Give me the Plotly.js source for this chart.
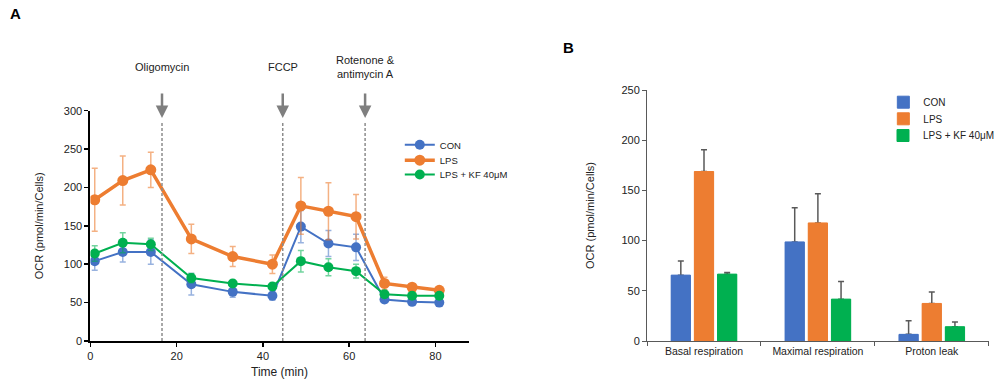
<!DOCTYPE html>
<html>
<head>
<meta charset="utf-8">
<script src="https://cdn.plot.ly/plotly-3.0.1.min.js"></script>
<style>html,body{margin:0;padding:0;background:#fff;}#chart{width:1000px;height:382px;}</style>
</head>
<body>
<div id="chart"></div>
<script>
// ---- Panel A data (Seahorse OCR time course) ----
const timeMin = [1.0, 7.5, 14.0, 23.4, 33.0, 42.2, 48.8, 55.2, 61.6, 68.2, 74.6, 80.9];
const conOCR  = [104, 116, 116, 74, 64, 59, 149, 127, 122, 54, 51, 50];
const conErr  = [12, 13, 16, 14, 7, 6, 21, 17, 17, 4, 3, 3];
const lpsOCR  = [184, 209, 223, 133, 110, 100, 176, 169, 162, 75, 70, 66];
const lpsErr  = [41, 32, 23, 19, 13, 12, 37, 37, 29, 8, 4, 3];
const kfOCR   = [114, 128, 126, 82, 75, 71, 104, 96, 91, 61, 59, 59];
const kfErr   = [10, 13, 8, 6, 4, 4, 14, 11, 9, 3, 3, 3];
const injectionTimes  = [16.6, 44.6, 63.7];
const injectionLabels = ["Oligomycin", "FCCP", "Rotenone &amp;<br>antimycin A"];
const seriesNames = ["CON", "LPS", "LPS + KF 40μM"];

// ---- Panel B data ----
const categories = ["Basal respiration", "Maximal respiration", "Proton leak"];
const conBar = [65.6, 98.7, 6.6];
const conBarErr = [14, 34, 13.6];
const lpsBar = [168.8, 117.6, 37.4];
const lpsBarErr = [21.6, 29, 11.3];
const kfBar = [66.6, 41.7, 14.2];
const kfBarErr = [1.7, 17.6, 4.7];

const colors = ["#4472C4", "#ED7D31", "#00B050"];
const errColors = ["rgba(68,114,196,0.55)", "rgba(237,125,49,0.6)", "rgba(0,176,80,0.55)"];
const FONT = "Liberation Sans, Arial, sans-serif";
const lineLegends = ["legend", "legend2", "legend3"];
const barLegends = ["legend4", "legend5", "legend6"];
const BAR_W = 0.169;
const barOffsets = [-0.288, -0.0845, 0.1189];

function lineTrace(y, err, i, msize, lw) {
  return {
    type: "scatter", mode: "lines+markers", x: timeMin, y: y, name: seriesNames[i],
    xaxis: "x", yaxis: "y", legend: lineLegends[i],
    line: {color: colors[i], width: lw},
    marker: {color: colors[i], size: msize},
    error_y: {type: "data", array: err, visible: true, color: errColors[i], thickness: 1.5, width: 3}
  };
}
// bars carrying the one-sided error bars
function barErrTrace(y, err, i) {
  return {
    type: "bar", x: categories, y: y, name: seriesNames[i], showlegend: false,
    xaxis: "x2", yaxis: "y2", width: BAR_W, offset: barOffsets[i],
    marker: {color: colors[i]},
    error_y: {type: "data", array: err, arrayminus: err.map(() => 0), symmetric: false, visible: true,
              color: "#595959", thickness: 1.5, width: 3}
  };
}
// same bars drawn on top (hide the lower cap of the error bar)
function barTrace(y, i) {
  return {
    type: "bar", x: categories, y: y, name: seriesNames[i],
    xaxis: "x2", yaxis: "y2", legend: barLegends[i], width: BAR_W, offset: barOffsets[i],
    marker: {color: colors[i], line: {color: colors[i], width: 1}}
  };
}

const traces = [
  lineTrace(conOCR, conErr, 0, 10, 2),
  lineTrace(lpsOCR, lpsErr, 1, 11, 3.5),
  lineTrace(kfOCR, kfErr, 2, 10, 2),
  barErrTrace(conBar, conBarErr, 0),
  barErrTrace(lpsBar, lpsBarErr, 1),
  barErrTrace(kfBar, kfBarErr, 2),
  barTrace(conBar, 0),
  barTrace(lpsBar, 1),
  barTrace(kfBar, 2)
];

const shapes = injectionTimes.map(t => ({
  type: "line", xref: "x", yref: "y", x0: t, x1: t, y0: 0, y1: 284,
  line: {color: "#8c8c8c", width: 1.5, dash: "3px,2px"}
}));

const annotations = [];
injectionTimes.forEach((t, i) => {
  annotations.push({
    xref: "x", yref: "paper", x: t, y: 0.691, text: "", showarrow: true,
    ax: 0, ay: -26, arrowhead: 2, arrowsize: 1, arrowwidth: 2.5, arrowcolor: "#7f7f7f"
  });
  annotations.push({
    xref: "x", yref: "paper", x: t, y: 1 - 67/382, text: injectionLabels[i], showarrow: false,
    xanchor: "center", yanchor: "middle", font: {family: FONT, size: 11, color: "#222"}
  });
});
annotations.push({xref: "paper", yref: "paper", x: 0.008, y: 1 - 14/382, text: "<b>A</b>", showarrow: false,
  xanchor: "left", yanchor: "middle", font: {family: FONT, size: 15, color: "#000"}});
annotations.push({xref: "paper", yref: "paper", x: 0.563, y: 1 - 47/382, text: "<b>B</b>", showarrow: false,
  xanchor: "left", yanchor: "middle", font: {family: FONT, size: 15, color: "#000"}});

function legendAt(xPx, topPx, size) {
  return {
    x: xPx / 1000, y: 1 - topPx / 382, xanchor: "left", yanchor: "top",
    font: {family: FONT, size: size, color: "#222"}, bgcolor: "rgba(0,0,0,0)", itemwidth: 30
  };
}

const layout = {
  width: 1000, height: 382,
  margin: {l: 0, r: 0, t: 0, b: 0},
  paper_bgcolor: "#fff", plot_bgcolor: "rgba(0,0,0,0)",
  font: {family: FONT, size: 11, color: "#222"},
  showlegend: true,
  barmode: "overlay",
  xaxis: {
    domain: [0.0907, 0.470], range: [0, 87.7], dtick: 20, tick0: 0,
    showgrid: false, zeroline: false, showline: true, linecolor: "#000", linewidth: 2,
    ticks: "outside", ticklen: 4, tickcolor: "#000", tickwidth: 1.5,
    tickfont: {family: FONT, size: 11, color: "#222"},
    title: {text: "Time (min)", font: {family: FONT, size: 12, color: "#222"}, standoff: 6},
    anchor: "y"
  },
  yaxis: {
    domain: [1 - 341/382, 1 - 110.7/382], range: [0, 300], dtick: 50,
    showgrid: false, zeroline: false, showline: true, linecolor: "#000", linewidth: 2,
    ticks: "outside", ticklen: 4, tickcolor: "#000", tickwidth: 1.5,
    tickfont: {family: FONT, size: 11, color: "#222"},
    title: {text: "OCR (pmol/min/Cells)", font: {family: FONT, size: 11, color: "#222"}, standoff: 18},
    anchor: "x"
  },
  xaxis2: {
    domain: [0.649, 0.9917], type: "category", tickson: "boundaries", range: [-0.5, 2.5],
    showgrid: false, zeroline: false, showline: true, linecolor: "#595959", linewidth: 1,
    ticks: "outside", ticklen: 4, tickcolor: "#595959",
    tickfont: {family: FONT, size: 10.5, color: "#222"},
    anchor: "y2"
  },
  yaxis2: {
    domain: [1 - 341/382, 1 - 90/382], range: [0, 250], dtick: 50,
    showgrid: false, zeroline: false, showline: true, linecolor: "#595959", linewidth: 1,
    ticks: "outside", ticklen: 4, tickcolor: "#595959",
    tickfont: {family: FONT, size: 11, color: "#222"},
    title: {text: "OCR (pmol/min/Cells)", font: {family: FONT, size: 11, color: "#222"}, standoff: 24},
    anchor: "x2"
  },
  legend:  legendAt(401, 130.3, 9.5),
  legend2: legendAt(401, 145.7, 9.5),
  legend3: legendAt(401, 160.0, 9.5),
  legend4: legendAt(886, 87.7, 10),
  legend5: legendAt(886, 104.3, 10),
  legend6: legendAt(886, 121.0, 10),
  shapes: shapes,
  annotations: annotations
};

Plotly.newPlot("chart", traces, layout, {staticPlot: true, displayModeBar: false});
</script>
</body>
</html>
